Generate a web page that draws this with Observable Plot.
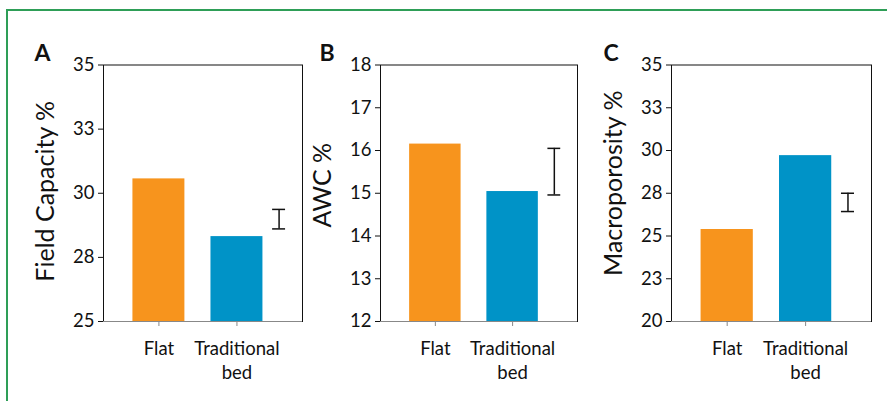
<!DOCTYPE html>
<html><head><meta charset="utf-8">
<script src="https://cdn.jsdelivr.net/npm/d3@7"></script>
<script src="https://cdn.jsdelivr.net/npm/@observablehq/plot@0.6"></script>
<style>
body{margin:0;background:#fff;width:887px;height:401px;overflow:hidden;position:relative;font-family:Lato,sans-serif;}
#border{position:absolute;left:6px;top:9px;width:900px;height:420px;border-left:2px solid #2e9e57;border-top:2px solid #2e9e57;}
.panel{position:absolute;top:0;}
</style></head><body>
<div id="border"></div>
<div id="chart"></div>
<script>
const categories = ["Flat", "Traditional bed"];
const categoryLabels = ["Flat", "Traditional\nbed"];
const fieldCapacity = [30.56, 28.31];
const awc = [16.15, 15.04];
const macroporosity = [25.38, 29.70];
const fieldCapacityErr = [28.61, 29.37];
const awcErr = [14.96, 16.05];
const macroporosityErr = [26.43, 27.50];
const fcTicks = [25, 27.5, 30, 32.5, 35];
const fcTickLabels = ["25", "28", "30", "33", "35"];
const awcTicks = [12, 13, 14, 15, 16, 17, 18];
const awcTickLabels = ["12", "13", "14", "15", "16", "17", "18"];
const macroTicks = [20, 22.5, 25, 27.5, 30, 32.5, 35];
const macroTickLabels = ["20", "23", "25", "28", "30", "33", "35"];
const panelLetters = ["A", "B", "C"];
const yLabels = ["Field Capacity %", "AWC %", "Macroporosity %"];
const barColors = ["#F7941D", "#0093C7"];

function panel({letter, label, values, err, ticks, tickLabels, axisLeft, plotWidth, labelDy, letterDx}) {
  const mL = 95, mR = 10;
  const domain = [ticks[0], ticks[ticks.length - 1]];
  const data = categories.map((c, i) => ({cat: c, pos: i + 1, value: values[i], color: barColors[i]}));
  const errPos = 2.54;
  const svg = Plot.plot({
    width: mL + plotWidth + mR, height: 401,
    marginLeft: mL, marginRight: mR, marginTop: 64.5, marginBottom: 80,
    x: {domain: [0.29, 2.84], axis: null},
    y: {domain, axis: null},
    color: {type: "identity"},
    style: {fontFamily: "Lato, sans-serif", background: "transparent", color: "#111", overflow: "visible"},
    marks: [
      Plot.rectY(data, {x1: d => d.pos - 0.333, x2: d => d.pos + 0.333, y1: domain[0], y2: "value", fill: "color"}),
      Plot.frame({stroke: "#111"}),
      Plot.ruleY([domain[0]], {stroke: "#888", strokeWidth: 1.2}),
      Plot.axisY({ticks, tickFormat: d => tickLabels[ticks.indexOf(d)], tickSize: 5, tickPadding: 4, fontSize: 18.5, label: null, stroke: "#111", fill: "#111"}),
      Plot.axisX({ticks: [1, 2], tickFormat: d => categoryLabels[d - 1], tickSize: 5, tickPadding: 12, fontSize: 18.5, label: null, stroke: "#888", fill: "#111", lineHeight: 1.27}),
      Plot.ruleX([errPos], {y1: err[0], y2: err[1], stroke: "#111", strokeWidth: 1.5}),
      Plot.ruleY(err, {x1: errPos - 0.083, x2: errPos + 0.083, stroke: "#111", strokeWidth: 1.5}),
      Plot.text([label], {frameAnchor: "left", rotate: -90, dx: -67, dy: labelDy, lineAnchor: "top", textAnchor: "middle", fontSize: 25, fill: "#111"}),
      Plot.text([letter], {frameAnchor: "top-left", dx: letterDx, dy: -4, lineAnchor: "bottom", textAnchor: "start", fontSize: 23, fontWeight: "bold", fill: "#111"})
    ]
  });
  svg.classList.add("panel");
  svg.style.left = (axisLeft - mL) + "px";
  document.getElementById("chart").appendChild(svg);
}

panel({letter: panelLetters[0], label: yLabels[0], values: fieldCapacity, err: fieldCapacityErr, ticks: fcTicks, tickLabels: fcTickLabels, axisLeft: 103, plotWidth: 199, labelDy: -2, letterDx: -69});
panel({letter: panelLetters[1], label: yLabels[1], values: awc, err: awcErr, ticks: awcTicks, tickLabels: awcTickLabels, axisLeft: 380, plotWidth: 197, labelDy: -8, letterDx: -61});
panel({letter: panelLetters[2], label: yLabels[2], values: macroporosity, err: macroporosityErr, ticks: macroTicks, tickLabels: macroTickLabels, axisLeft: 671, plotWidth: 200, labelDy: -10, letterDx: -68});
</script>
</body></html>
